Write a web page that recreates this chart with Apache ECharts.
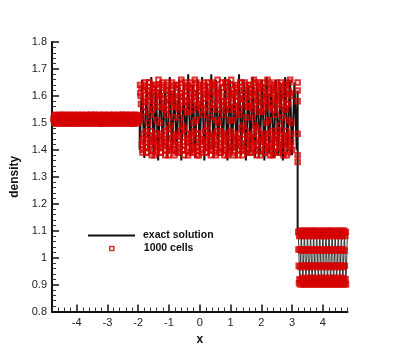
<!DOCTYPE html>
<html><head><meta charset="utf-8">
<style>html,body{margin:0;padding:0;background:#fff}#c{width:395px;height:351px}</style>
<script src="https://cdn.jsdelivr.net/npm/echarts@6/dist/echarts.min.js"></script>
</head><body><div id="c"></div>
<script>
const xTicks=[-4,-3,-2,-1,0,1,2,3,4];
const yTicks=[0.8,0.9,1,1.1,1.2,1.3,1.4,1.5,1.6,1.7,1.8];
const xMinor=[-4.8,-4.6,-4.4,-4.2,-3.8,-3.6,-3.4,-3.2,-2.8,-2.6,-2.4,-2.2,-1.8,-1.6,-1.4,-1.2,-0.8,-0.6,-0.4,-0.2,0.2,0.4,0.6,0.8,1.2,1.4,1.6,1.8,2.2,2.4,2.6,2.8,3.2,3.4,3.6,3.8,4.2,4.4,4.6,4.8];
const yMinor=[0.82,0.84,0.86,0.88,0.92,0.94,0.96,0.98,1.02,1.04,1.06,1.08,1.12,1.14,1.16,1.18,1.22,1.24,1.26,1.28,1.32,1.34,1.36,1.38,1.42,1.44,1.46,1.48,1.52,1.54,1.56,1.58,1.62,1.64,1.66,1.68,1.72,1.74,1.76,1.78];

// exact solution: plateau, oscillating zone, shock, oscillating zone
const exactPlateauX=[-4.8,-1.95];
const exactPlateau=[1.515,1.515];
const exactMidStart=-1.95, exactMidStep=0.075;
const exactMid=[1.40,1.66,1.37,1.65,1.39,1.67,1.38,1.64,1.36,1.66,1.40,1.65,1.37,1.67,1.39,1.64,1.38,1.66,1.36,1.65,1.40,1.68,1.38,1.64,1.37,1.66,1.39,1.67,1.36,1.65,1.38,1.68,1.37,1.66,1.40,1.64,1.38,1.67,1.36,1.66,1.39,1.65,1.37,1.68,1.38,1.66,1.36,1.64,1.39,1.67,1.37,1.65,1.38,1.66,1.36,1.67,1.39,1.64,1.37,1.66,1.38,1.65,1.36,1.67,1.39,1.66,1.38,1.65,1.40];
const exactShockX=[3.18,3.18];
const exactShock=[1.62,1.10];
const exactRightStart=3.2, exactRightStep=0.05;
const exactRight=[1.10,0.90,1.10,0.90,1.10,0.90,1.10,0.90,1.10,0.90,1.10,0.90,1.10,0.90,1.10,0.90,1.10,0.90,1.10,0.90,1.10,0.90,1.10,0.90,1.10,0.90,1.10,0.90,1.10,0.90,1.10,0.90,1.10];

// 1000 cells, read in three zones
const cellsLeftStart=-4.75, cellsLeftStep=0.02;
const cellsLeft=[1.515,1.50,1.53,1.51,1.497,1.525,1.505,1.528,1.515,1.499,1.52,1.53,1.508,1.497,1.525,1.512,1.53,1.502,1.518,1.497,
1.527,1.51,1.50,1.53,1.515,1.498,1.522,1.506,1.529,1.513,1.497,1.525,1.53,1.504,1.518,1.499,1.528,1.51,1.497,1.523,
1.53,1.507,1.515,1.498,1.526,1.511,1.53,1.50,1.52,1.497,1.528,1.509,1.516,1.499,1.53,1.505,1.524,1.497,1.513,1.529,
1.50,1.52,1.53,1.508,1.497,1.525,1.514,1.53,1.503,1.518,1.498,1.527,1.51,1.499,1.53,1.516,1.497,1.522,1.506,1.529,
1.512,1.497,1.526,1.53,1.504,1.519,1.499,1.528,1.51,1.497,1.524,1.53,1.507,1.515,1.498,1.527,1.511,1.53,1.50,1.52,
1.497,1.528,1.509,1.516,1.499,1.53,1.505,1.524,1.497,1.513,1.529,1.50,1.52,1.53,1.508,1.497,1.525,1.514,1.53,1.503,
1.518,1.498,1.527,1.51,1.499,1.53,1.516,1.497,1.522,1.506,1.529,1.512,1.497,1.526,1.53,1.504,1.519,1.50,1.528,1.51];
const cellsLeftCore=[1.512,1.505,1.52,1.51,1.515,1.505,1.518,1.51,1.503,1.52,1.512,1.507,1.516,1.52,1.505,1.51,1.518,1.503,1.514,1.52,
1.508,1.516,1.504,1.52,1.512,1.506,1.518,1.51,1.503,1.516,1.52,1.507,1.513,1.505,1.52,1.51,1.517,1.504,1.514,1.52,
1.506,1.512,1.518,1.503,1.51,1.52,1.507,1.515,1.505,1.519,1.511,1.504,1.516,1.52,1.508,1.513,1.503,1.518,1.51,1.506,
1.52,1.514,1.505,1.517,1.509,1.503,1.52,1.512,1.507,1.516,1.505,1.519,1.51,1.504,1.515,1.52,1.508,1.512,1.506,1.518,
1.503,1.511,1.52,1.507,1.514,1.505,1.517,1.51,1.504,1.52,1.512,1.508,1.516,1.503,1.519,1.51,1.506,1.514,1.52,1.505,
1.513,1.517,1.507,1.503,1.52,1.51,1.515,1.505,1.518,1.512,1.504,1.52,1.508,1.514,1.506,1.517,1.51,1.503,1.52,1.513,
1.505,1.518,1.509,1.515,1.504,1.52,1.511,1.507,1.516,1.503,1.519,1.51,1.506,1.514,1.52,1.505,1.512,1.518,1.508];
const cellsMidStart=-1.94, cellsMidStep=0.02;
const cellsMid=[1.64,1.60,1.52,1.42,1.39,1.44,1.54,1.62,1.65,1.58,1.47,1.39,1.41,1.50,1.60,1.65,1.62,1.53,1.43,1.38,1.44,1.55,1.63,1.64,1.57,1.46,1.39,1.42,1.51,1.61,
1.66,1.60,1.50,1.41,1.39,1.46,1.56,1.64,1.63,1.55,1.44,1.38,1.43,1.53,1.62,1.65,1.59,1.48,1.40,1.40,1.49,1.59,1.65,1.62,1.52,1.42,1.38,1.45,1.56,1.64,
1.64,1.56,1.45,1.39,1.42,1.52,1.61,1.66,1.60,1.49,1.40,1.40,1.48,1.58,1.65,1.63,1.54,1.43,1.38,1.44,1.54,1.63,1.65,1.58,1.46,1.39,1.41,1.50,1.60,1.66,
1.61,1.51,1.41,1.38,1.46,1.57,1.64,1.63,1.55,1.44,1.39,1.43,1.53,1.62,1.65,1.59,1.47,1.39,1.41,1.49,1.60,1.65,1.62,1.52,1.42,1.38,1.45,1.55,1.64,1.64,
1.57,1.45,1.39,1.42,1.51,1.61,1.66,1.60,1.50,1.40,1.39,1.47,1.58,1.65,1.63,1.53,1.43,1.38,1.44,1.55,1.63,1.65,1.58,1.46,1.39,1.41,1.51,1.60,1.66,1.61,
1.51,1.41,1.38,1.46,1.56,1.64,1.63,1.54,1.44,1.38,1.43,1.53,1.62,1.65,1.59,1.48,1.40,1.40,1.49,1.59,1.65,1.62,1.52,1.42,1.39,1.45,1.56,1.64,1.64,1.56,
1.45,1.39,1.42,1.52,1.61,1.66,1.60,1.49,1.40,1.40,1.48,1.58,1.65,1.63,1.54,1.43,1.38,1.44,1.54,1.63,1.65,1.58,1.46,1.39,1.41,1.50,1.60,1.66,1.61,1.51,
1.41,1.38,1.46,1.57,1.64,1.63,1.55,1.44,1.39,1.43,1.53,1.62,1.65,1.59,1.47,1.39,1.41,1.49,1.60,1.65,1.62,1.52,1.42,1.38,1.45,1.55,1.64,1.64,1.57,1.45,
1.39,1.42,1.51,1.61,1.66,1.60,1.50,1.40];
const cellsMidDense=[1.61,1.57,1.63,1.43,1.40,1.46,1.59,1.64,1.56,1.41,1.44,1.39,1.62,1.58,1.65,1.45,1.42,1.47,1.60,1.55,1.63,1.40,1.43,1.38,1.58,1.64,1.61,1.46,1.41,1.44,
1.63,1.56,1.60,1.39,1.45,1.42,1.65,1.59,1.57,1.43,1.47,1.40,1.62,1.55,1.64,1.41,1.38,1.46,1.58,1.61,1.56,1.44,1.40,1.43,1.64,1.60,1.57,1.42,1.46,1.39,
1.59,1.63,1.55,1.45,1.41,1.47,1.61,1.65,1.58,1.40,1.43,1.38,1.56,1.62,1.60,1.46,1.44,1.41,1.64,1.57,1.59,1.39,1.42,1.45,1.63,1.55,1.61,1.47,1.40,1.43,
1.58,1.65,1.56,1.41,1.46,1.38,1.60,1.62,1.57,1.44,1.42,1.40,1.64,1.59,1.55,1.43,1.47,1.39,1.61,1.56,1.63,1.45,1.41,1.44,1.58,1.60,1.65,1.40,1.46,1.42,
1.57,1.64,1.62,1.38,1.43,1.47,1.55,1.59,1.61,1.44,1.39,1.41,1.63,1.56,1.58,1.46,1.42,1.45,1.65,1.60,1.57,1.40,1.38,1.43,1.62,1.55,1.64,1.47,1.44,1.41,
1.59,1.56,1.61,1.39,1.45,1.42,1.63,1.58,1.60,1.43,1.40,1.46,1.55,1.65,1.57,1.41,1.44,1.38,1.62,1.59,1.64,1.47,1.42,1.40,1.56,1.61,1.58,1.45,1.39,1.43,
1.60,1.63,1.55,1.46,1.41,1.44,1.57,1.65,1.62,1.38,1.42,1.47,1.59,1.56,1.64,1.40,1.45,1.43,1.61,1.58,1.55,1.44,1.39,1.41,1.63,1.60,1.57,1.46,1.43,1.40,
1.65,1.56,1.59,1.42,1.47,1.38,1.62,1.55,1.61,1.45,1.41,1.44,1.58,1.64,1.57,1.39,1.43,1.46,1.60,1.63,1.56,1.40,1.42,1.45,1.59,1.61,1.55,1.47,1.38,1.44,
1.57,1.62,1.65,1.41,1.46,1.43];
const cellsShockX=[3.18,3.18,3.18,3.18,3.18,3.18];
const cellsShock=[1.65,1.62,1.58,1.46,1.38,1.355];
const cellsRightStart=3.2, cellsRightStep=0.0078;
const cellsRight=[1.095,1.03,0.97,0.905,1.08,0.92,1.10,1.03,0.965,0.90,1.085,0.915,1.09,1.025,0.97,0.91,1.08,0.925,1.10,1.03,0.97,0.90,1.085,0.92,1.095,1.03,0.965,0.905,1.08,0.915,1.10,1.025,0.97,0.90,1.09,0.92,1.085,1.03,0.97,0.91,
1.10,0.925,1.08,1.03,0.965,0.90,1.095,0.915,1.085,1.025,0.97,0.905,1.10,0.92,1.08,1.03,0.97,0.90,1.09,0.925,1.10,1.03,0.965,0.91,1.08,0.915,1.095,1.025,0.97,0.90,1.085,0.92,1.10,1.03,0.97,0.905,1.08,0.925,1.09,1.03,
0.965,0.90,1.10,0.915,1.085,1.025,0.97,0.91,1.08,0.92,1.095,1.03,0.97,0.90,1.10,0.925,1.085,1.03,0.965,0.905,1.08,0.915,1.09,1.025,0.97,0.90,1.10,0.92,1.08,1.03,0.97,0.91,1.095,0.925,1.085,1.03,0.965,0.90,1.10,0.915,
1.08,1.025,0.97,0.905,1.09,0.92,1.10,1.03,0.97,0.90,1.085,0.925,1.08,1.03,0.965,0.91,1.095,0.915,1.10,1.025,0.97,0.90,1.08,0.92,1.09,1.03,0.97,0.905,1.10,0.925,1.085,1.03,0.965,0.90,1.08,0.915,1.095,1.025,0.97,0.91,
1.10,0.92,1.085,1.03,0.97,0.90,1.08,0.925,1.09,1.03,0.965,0.905,1.10,0.915,1.08,1.025,0.97,0.90,1.095,0.92,1.085,1.03,0.97,0.91,1.10,0.925,1.08,1.03,0.965,0.90,1.09,0.915,1.10,1.025,0.97,0.905,1.08,0.92,1.095,0.90];

const exactData=[];
exactPlateauX.forEach((x,i)=>exactData.push([x,exactPlateau[i]]));
exactMid.forEach((v,i)=>exactData.push([exactMidStart+i*exactMidStep,v]));
exactShockX.forEach((x,i)=>exactData.push([x,exactShock[i]]));
const exactRightData=exactRight.map((v,i)=>[exactRightStart+i*exactRightStep,v]);
const cellData=[];
cellsLeft.forEach((v,i)=>cellData.push([cellsLeftStart+i*cellsLeftStep,v]));
cellsLeftCore.forEach((v,i)=>cellData.push([cellsLeftStart+0.01+i*cellsLeftStep,v]));
cellsMid.forEach((v,i)=>cellData.push([cellsMidStart+i*cellsMidStep,v]));
cellsMidDense.forEach((v,i)=>cellData.push([cellsMidStart+0.01+i*cellsMidStep,v]));
cellsShockX.forEach((x,i)=>cellData.push([x,cellsShock[i]]));
cellsRight.forEach((v,i)=>cellData.push([cellsRightStart+i*cellsRightStep,v]));

const font='"Liberation Sans",Arial,sans-serif';
const axisLine={show:true,onZero:false,lineStyle:{color:'#111',width:2}};
const xBase={type:'value',min:-4.8,max:4.8,splitLine:{show:false},minorTick:{show:false}};
const yBase={type:'value',min:0.8,max:1.8,splitLine:{show:false},minorTick:{show:false}};
const cellStyle={color:'rgba(0,0,0,0)',borderColor:'#d40000',borderWidth:2};
const legendText={fontFamily:font,fontSize:10.5,fontWeight:'bold',color:'#111'};
const chart=echarts.init(document.getElementById('c'),null,{renderer:'canvas'});
chart.setOption({
 animation:false,
 backgroundColor:'#fff',
 grid:{left:52,right:47.5,top:42,bottom:39.5},
 legend:[
  {left:88,top:230,padding:0,itemWidth:47,itemHeight:2,itemGap:0,textStyle:Object.assign({},legendText,{padding:[0,0,0,3]}),
   data:[{name:'exact solution',icon:'rect',itemStyle:{color:'#111'}}]},
  {left:109,top:243,padding:0,itemWidth:4,itemHeight:4,textStyle:Object.assign({},legendText,{padding:[0,0,0,25]}),
   data:[{name:'1000 cells',icon:'rect',itemStyle:{color:'rgba(0,0,0,0)',borderColor:'#d40000',borderWidth:1.6}}]}
 ],
 xAxis:[
  Object.assign({},xBase,{position:'bottom',name:'x',nameLocation:'middle',nameGap:22,
   nameTextStyle:{fontFamily:font,fontSize:12,fontWeight:'bold',color:'#111'},
   axisLine,axisTick:{show:true,inside:true,length:7,lineStyle:{color:'#111',width:1.5},customValues:xTicks},
   axisLabel:{show:true,showMinLabel:true,showMaxLabel:true,margin:6,fontFamily:font,fontSize:11,color:'#222',customValues:xTicks}}),
  Object.assign({},xBase,{position:'bottom',axisLine:{show:false,onZero:false},
   axisTick:{show:true,inside:true,length:4,lineStyle:{color:'#333',width:1},customValues:xMinor},axisLabel:{show:false}})
 ],
 yAxis:[
  Object.assign({},yBase,{position:'left',name:'density',nameLocation:'middle',nameGap:14,
   nameTextStyle:{fontFamily:font,fontSize:12,fontWeight:'bold',color:'#111'},
   axisLine,axisTick:{show:true,inside:true,length:7,lineStyle:{color:'#111',width:1.5},customValues:yTicks},
   axisLabel:{show:true,margin:5,fontFamily:font,fontSize:11,color:'#222',customValues:yTicks,formatter:v=>String(+v.toFixed(1))}}),
  Object.assign({},yBase,{position:'left',axisLine:{show:false,onZero:false},
   axisTick:{show:true,inside:true,length:4,lineStyle:{color:'#333',width:1},customValues:yMinor},axisLabel:{show:false}})
 ],
 series:[
  {name:'exact solution',type:'line',data:exactData,symbol:'none',lineStyle:{color:'#111',width:2},itemStyle:{color:'#111'},z:2,clip:false},
  {name:'exact solution',type:'line',data:exactRightData,symbol:'none',lineStyle:{color:'#222',width:0.9},itemStyle:{color:'#111'},z:2,clip:false},
  {name:'1000 cells',type:'scatter',data:cellData,symbol:'rect',symbolSize:4.5,
   itemStyle:cellStyle,z:3,clip:false}
 ]
});
</script></body></html>
